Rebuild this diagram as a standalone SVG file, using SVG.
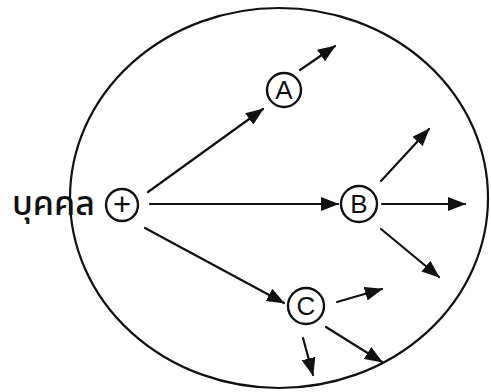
<svg xmlns="http://www.w3.org/2000/svg" width="491" height="392" viewBox="0 0 491 392">
<style>
.ln{stroke:#111;stroke-width:2.2;fill:none;stroke-linecap:round}
.nd{stroke:#111;stroke-width:2.4;fill:#fff}
.lb{font-family:"Liberation Sans",Arial,sans-serif;font-size:26px;fill:#111;text-anchor:middle}
.pl{font-family:"Liberation Sans",Arial,sans-serif;font-size:31px;fill:#111;text-anchor:middle}
.th{font-family:"Noto Sans Thai","Noto Sans","DejaVu Sans",sans-serif;font-size:34px;font-weight:500;fill:#111}
</style>
<defs>
<marker id="ah" markerUnits="userSpaceOnUse" markerWidth="18" markerHeight="14" refX="17" refY="7" orient="auto">
<path d="M0,0 L18,7 L0,14 Z" fill="#111"/>
</marker>
</defs>
<rect width="491" height="392" fill="#fff"/>
<g id="boundary">
<ellipse cx="279" cy="198" rx="209" ry="190" class="ln"/>
</g>
<g id="connectors">
<line class="ln" x1="148" y1="192" x2="263" y2="109" marker-end="url(#ah)"/>
<line class="ln" x1="150" y1="204" x2="338" y2="204" marker-end="url(#ah)"/>
<line class="ln" x1="145" y1="228" x2="284" y2="303" marker-end="url(#ah)"/>
<line class="ln" x1="300" y1="70" x2="335" y2="46" marker-end="url(#ah)"/>
<line class="ln" x1="381" y1="181" x2="429" y2="129" marker-end="url(#ah)"/>
<line class="ln" x1="382" y1="204" x2="465" y2="204" marker-end="url(#ah)"/>
<line class="ln" x1="381" y1="229" x2="439" y2="277" marker-end="url(#ah)"/>
<line class="ln" x1="337" y1="302" x2="382" y2="289" marker-end="url(#ah)"/>
<line class="ln" x1="303" y1="338" x2="313" y2="375" marker-end="url(#ah)"/>
<line class="ln" x1="326" y1="327" x2="382" y2="362" marker-end="url(#ah)"/>
</g>
<g id="person">
<text class="th" x="12" y="215">บุคคล</text>
<circle class="nd" cx="122" cy="205" r="16"/>
<text class="pl" x="122" y="215">+</text>
</g>
<g id="nodeA">
<circle class="nd" cx="284" cy="90" r="17"/>
<text class="lb" x="284" y="99">A</text>
</g>
<g id="nodeB">
<circle class="nd" cx="359" cy="204" r="18"/>
<text class="lb" x="359" y="213">B</text>
</g>
<g id="nodeC">
<circle class="nd" cx="306" cy="306" r="18"/>
<text class="lb" x="306" y="315">C</text>
</g>
</svg>
